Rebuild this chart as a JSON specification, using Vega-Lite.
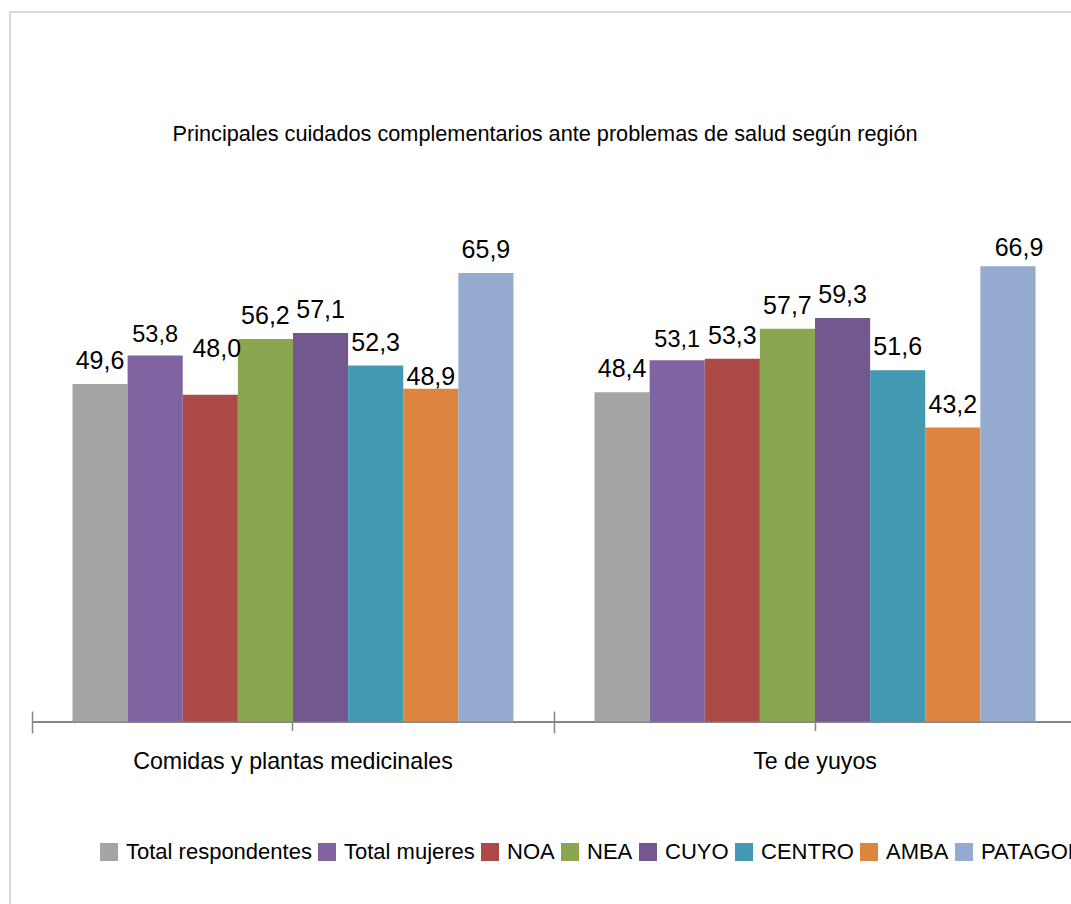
{
  "$schema": "https://vega.github.io/schema/vega-lite/v6.json",
  "width": 1088,
  "height": 900,
  "autosize": {"type": "none"},
  "padding": {"left": 10, "top": 12, "right": 0, "bottom": 0},
  "background": "white",
  "title": {
    "text": "Principales cuidados complementarios ante problemas de salud según región",
    "font": "Liberation Sans",
    "fontSize": 21.7,
    "fontWeight": "normal",
    "color": "#000000",
    "anchor": "middle",
    "frame": "group",
    "baseline": "alphabetic",
    "offset": -151,
    "dx": -9
  },
  "data": {
    "values": [
      {"categoria": "Comidas y plantas medicinales", "serie": "Total respondentes", "valor": 49.6},
      {"categoria": "Comidas y plantas medicinales", "serie": "Total mujeres", "valor": 53.8},
      {"categoria": "Comidas y plantas medicinales", "serie": "NOA", "valor": 48.0},
      {"categoria": "Comidas y plantas medicinales", "serie": "NEA", "valor": 56.2},
      {"categoria": "Comidas y plantas medicinales", "serie": "CUYO", "valor": 57.1},
      {"categoria": "Comidas y plantas medicinales", "serie": "CENTRO", "valor": 52.3},
      {"categoria": "Comidas y plantas medicinales", "serie": "AMBA", "valor": 48.9},
      {"categoria": "Comidas y plantas medicinales", "serie": "PATAGONIA", "valor": 65.9},
      {"categoria": "Te de yuyos", "serie": "Total respondentes", "valor": 48.4},
      {"categoria": "Te de yuyos", "serie": "Total mujeres", "valor": 53.1},
      {"categoria": "Te de yuyos", "serie": "NOA", "valor": 53.3},
      {"categoria": "Te de yuyos", "serie": "NEA", "valor": 57.7},
      {"categoria": "Te de yuyos", "serie": "CUYO", "valor": 59.3},
      {"categoria": "Te de yuyos", "serie": "CENTRO", "valor": 51.6},
      {"categoria": "Te de yuyos", "serie": "AMBA", "valor": 43.2},
      {"categoria": "Te de yuyos", "serie": "PATAGONIA", "valor": 66.9}
    ]
  },
  "transform": [
    {"calculate": "replace(format(datum.valor, '.1f'), '.', ',')", "as": "etiqueta"}
  ],
  "encoding": {
    "xOffset": {
      "field": "serie",
      "type": "nominal",
      "sort": ["Total respondentes", "Total mujeres", "NOA", "NEA", "CUYO", "CENTRO", "AMBA", "PATAGONIA"],
      "scale": {"paddingInner": 0, "paddingOuter": 0.7347}
    },
    "y": {
      "field": "valor",
      "type": "quantitative",
      "scale": {"domain": [-27.99, 104.26], "nice": false, "zero": false},
      "axis": null
    }
  },
  "layer": [
    {
      "mark": {"type": "bar"},
      "encoding": {
        "x": {
          "field": "categoria",
          "type": "nominal",
          "sort": null,
          "scale": {"paddingInner": 0, "paddingOuter": 0.0421},
          "axis": {
            "orient": "bottom",
            "offset": -190.5,
            "title": null,
            "grid": false,
            "domain": true,
            "domainColor": "#868686",
            "domainWidth": 2,
            "domainDash": [0, 22, 1200, 0],
            "ticks": true,
            "tickBand": "center",
            "tickColor": "#868686",
            "tickWidth": 1.5,
            "tickSize": 9,
            "labels": true,
            "labelAngle": 0,
            "labelFont": "Liberation Sans",
            "labelFontSize": 23.2,
            "labelColor": "#000000",
            "labelBaseline": "alphabetic",
            "labelPadding": 37.8,
            "labelLimit": 0
          }
        },
        "y2": {"datum": 0},
        "color": {
          "field": "serie",
          "type": "nominal",
          "scale": {
            "domain": ["Total respondentes", "Total mujeres", "NOA", "NEA", "CUYO", "CENTRO", "AMBA", "PATAGONIA"],
            "range": ["#a5a5a5", "#8064a2", "#ab4a47", "#8aa650", "#72588f", "#4499b2", "#dd843f", "#95aacf"]
          },
          "legend": {
            "orient": "none",
            "legendX": 88,
            "legendY": 829,
            "direction": "horizontal",
            "columns": 8,
            "title": null,
            "padding": 0,
            "symbolType": "square",
            "symbolSize": 324,
            "symbolStrokeWidth": 0,
            "symbolOpacity": 1,
            "labelFont": "Liberation Sans",
            "labelFontSize": 22,
            "labelColor": "#000000",
            "labelOffset": 6,
            "labelLimit": 0,
            "columnPadding": 4
          }
        }
      }
    },
    {
      "transform": [
        {"filter": "datum.serie !== 'Total mujeres' && !(datum.categoria === 'Comidas y plantas medicinales' && (datum.serie === 'NOA' || datum.serie === 'AMBA')) && !(datum.categoria === 'Te de yuyos' && datum.serie === 'PATAGONIA')"}
      ],
      "mark": {"type": "text", "font": "Liberation Sans", "fontSize": 25, "color": "#000000", "baseline": "alphabetic", "align": "center", "dy": -15},
      "encoding": {
        "x": {
          "field": "categoria",
          "type": "nominal",
          "sort": null,
          "axis": {
            "orient": "bottom",
            "offset": -201,
            "title": null,
            "grid": false,
            "domain": false,
            "ticks": true,
            "tickBand": "extent",
            "tickColor": "#868686",
            "tickWidth": 1.5,
            "tickSize": 22,
            "labels": false
          }
        },
        "text": {"field": "etiqueta"}
      }
    },
    {
      "transform": [{"filter": "datum.serie === 'Total mujeres'"}],
      "mark": {"type": "text", "font": "Liberation Sans", "fontSize": 23.5, "color": "#000000", "baseline": "alphabetic", "align": "center", "dy": -13},
      "encoding": {
        "x": {"field": "categoria", "type": "nominal", "sort": null, "axis": null},
        "text": {"field": "etiqueta"}
      }
    },
    {
      "transform": [{"filter": "datum.categoria === 'Comidas y plantas medicinales' && datum.serie === 'NOA'"}],
      "mark": {"type": "text", "font": "Liberation Sans", "fontSize": 25, "color": "#000000", "baseline": "alphabetic", "align": "center", "dy": -38, "dx": 6.5},
      "encoding": {
        "x": {"field": "categoria", "type": "nominal", "sort": null, "axis": null},
        "text": {"field": "etiqueta"}
      }
    },
    {
      "transform": [{"filter": "datum.categoria === 'Comidas y plantas medicinales' && datum.serie === 'AMBA'"}],
      "mark": {"type": "text", "font": "Liberation Sans", "fontSize": 25, "color": "#000000", "baseline": "alphabetic", "align": "center", "dy": -3.3},
      "encoding": {
        "x": {"field": "categoria", "type": "nominal", "sort": null, "axis": null},
        "text": {"field": "etiqueta"}
      }
    },
    {
      "transform": [{"filter": "datum.categoria === 'Te de yuyos' && datum.serie === 'PATAGONIA'"}],
      "mark": {"type": "text", "font": "Liberation Sans", "fontSize": 25, "color": "#000000", "baseline": "alphabetic", "align": "center", "dy": -10, "dx": 11},
      "encoding": {
        "x": {"field": "categoria", "type": "nominal", "sort": null, "axis": null},
        "text": {"field": "etiqueta"}
      }
    }
  ],
  "resolve": {"axis": {"x": "independent"}},
  "config": {
    "view": {"stroke": "#d9d9d9", "strokeWidth": 2},
    "axis": {"grid": false}
  }
}
